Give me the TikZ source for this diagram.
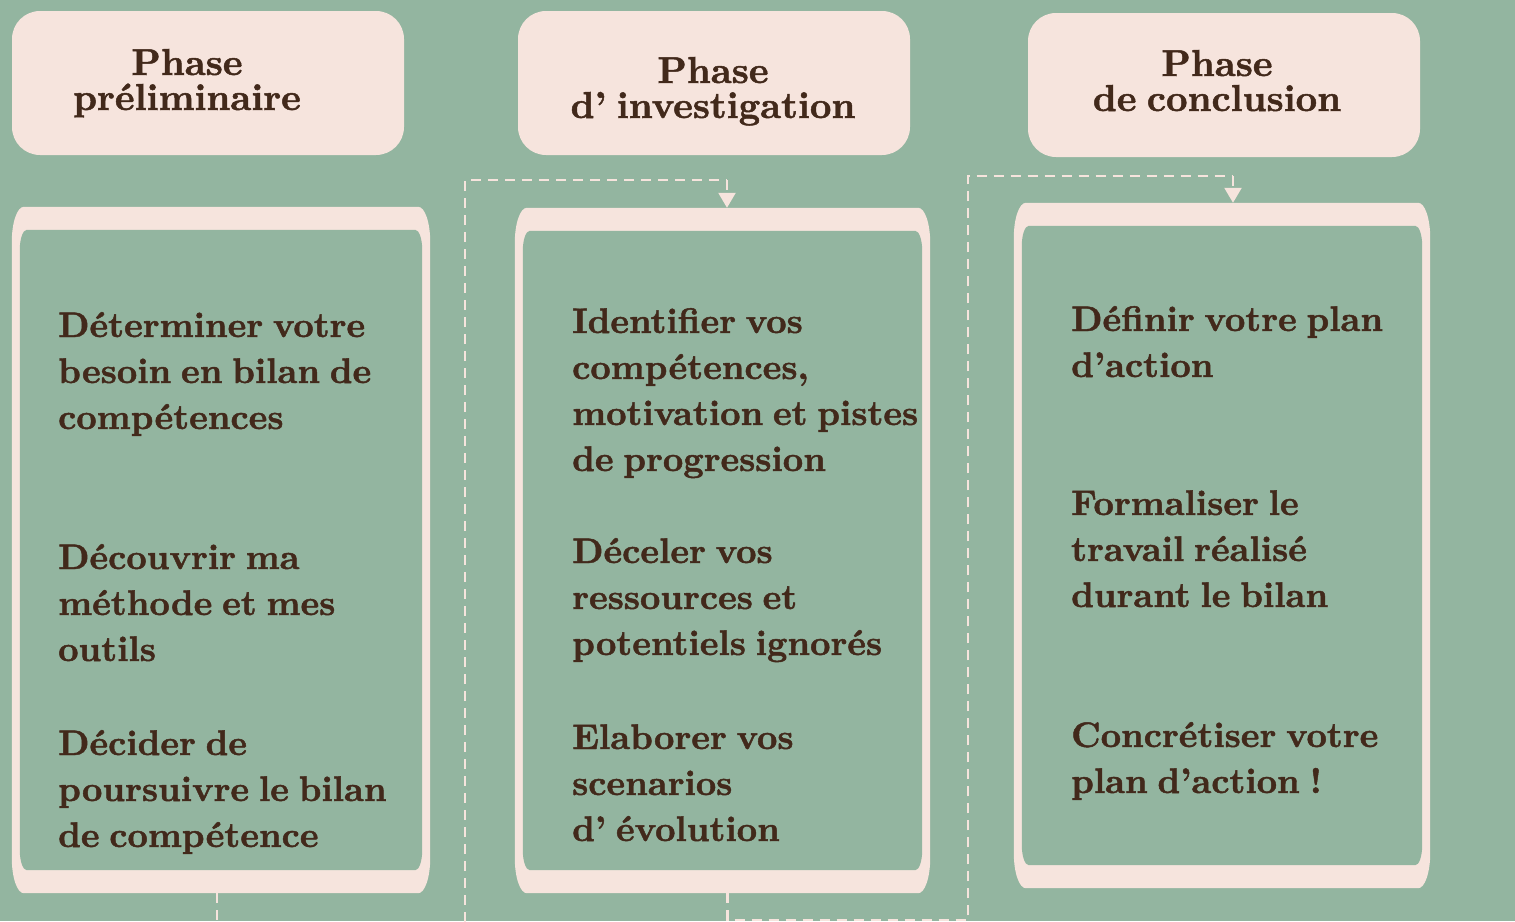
\documentclass[tikz,border=0pt]{standalone}
\usepackage{fontspec}
\newfontfamily\pf{lmroman10-bold.otf}[FakeBold=1.3, WordSpace=0.72]
\usetikzlibrary{arrows.meta}
\definecolor{bgc}{HTML}{93B5A0}
\definecolor{pinkc}{HTML}{F6E4DD}
\definecolor{brownc}{HTML}{42291B}
\newcommand\framepanel[1]{%
 \fill[pinkc] ([xshift=12pt]#1.north west) -- ([xshift=-12pt]#1.north east)
   arc[start angle=90,end angle=0,x radius=12pt,y radius=35pt]
   -- ([yshift=35pt]#1.south east)
   arc[start angle=0,end angle=-90,x radius=12pt,y radius=35pt]
   -- ([xshift=12pt]#1.south west)
   arc[start angle=270,end angle=180,x radius=12pt,y radius=35pt]
   -- ([yshift=-35pt]#1.north west)
   arc[start angle=180,end angle=90,x radius=12pt,y radius=35pt] -- cycle;
 \fill[bgc] ([shift={(15pt,-23pt)}]#1.north west) -- ([shift={(-15pt,-23pt)}]#1.north east)
   arc[start angle=90,end angle=0,x radius=7pt,y radius=20pt]
   -- ([shift={(-8pt,43pt)}]#1.south east)
   arc[start angle=0,end angle=-90,x radius=7pt,y radius=20pt]
   -- ([shift={(15pt,23pt)}]#1.south west)
   arc[start angle=270,end angle=180,x radius=7pt,y radius=20pt]
   -- ([shift={(8pt,-43pt)}]#1.north west)
   arc[start angle=180,end angle=90,x radius=7pt,y radius=20pt] -- cycle;
}
\tikzset{
  headbox/.style={fill=pinkc, rounded corners=28pt, minimum width=392pt, minimum height=144pt, inner sep=0pt},
  panelbox/.style={inner sep=0pt, minimum width=416pt, minimum height=685pt},
  headtext/.style={text=brownc, font=\pf\fontsize{37.5}{35}\selectfont, align=center, anchor=base, inner sep=0pt},
  bodytext/.style={text=brownc, font=\pf\fontsize{35.5}{46}\selectfont, align=left, anchor=base west, inner sep=0pt},
  dashline/.style={draw=pinkc, line width=2.3pt, dash pattern=on 10pt off 7pt},
  arrowtip/.style={-{Triangle[length=15pt,width=17pt]}}
}
\begin{document}
\begin{tikzpicture}[x=1pt,y=-1pt]
\useasboundingbox (0,0) rectangle (1515,921);
\clip (0,0) rectangle (1515,921);
\fill[bgc] (0,0) rectangle (1515,921);
% headers
\node[headbox] (h1) at (208,83) {};
\node[headbox] (h2) at (714,83) {};
\node[headbox] (h3) at (1224,85) {};
\node[headtext] (h1t) at (187,110) {Phase\\préliminaire};
\node[headtext] (h2t) at (713,118) {Phase\\d’ investigation};
\node[headtext] (h3t) at (1217,111) {Phase\\de conclusion};
% panels
\node[panelbox, minimum width=418pt, minimum height=686pt] (p1) at (221,550) {};
\node[panelbox, minimum width=415pt] (p2) at (722.5,550.5) {};
\node[panelbox] (p3) at (1222,545.5) {};
\framepanel{p1}
\framepanel{p2}
\framepanel{p3}
% connectors
\coordinate (c1a) at (465,928);
\coordinate (c1b) at (727,180);
\coordinate (c2a) at (968,920);
\coordinate (c2b) at (1233,176);
\draw[dashline] ([xshift=-4pt]p1.south) |- (c1a) |- (c1b);
\draw[dashline, arrowtip] (c1b) -- (p2.north -| c1b);
\draw[dashline] ([xshift=5pt]p2.south) |- (c2a) |- (c2b);
\draw[dashline, arrowtip] (c2b) -- (p3.north -| c2b);
% body texts (anchored at the baseline of the last line)
\node[bodytext] (t11) at (58,429) {Déterminer votre\\besoin en bilan de\\compétences};
\node[bodytext] (t12) at (58,661) {Découvrir ma\\méthode et mes\\outils};
\node[bodytext] (t13) at (58,847) {Décider de\\poursuivre le bilan\\de compétence};
\node[bodytext] (t21) at (572,471) {Identifier vos\\compétences,\\motivation et pistes\\de progression};
\node[bodytext] (t22) at (572,655) {Déceler vos\\ressources et\\potentiels ignorés};
\node[bodytext] (t23) at (572,841) {Elaborer vos\\scenarios\\d’ évolution};
\node[bodytext] (t31) at (1071,377) {Définir votre plan\\d’action};
\node[bodytext] (t32) at (1071,607) {Formaliser le\\travail réalisé\\durant le bilan};
\node[bodytext] (t33) at (1071,793) {Concrétiser votre\\plan d’action !};
\end{tikzpicture}
\end{document}
